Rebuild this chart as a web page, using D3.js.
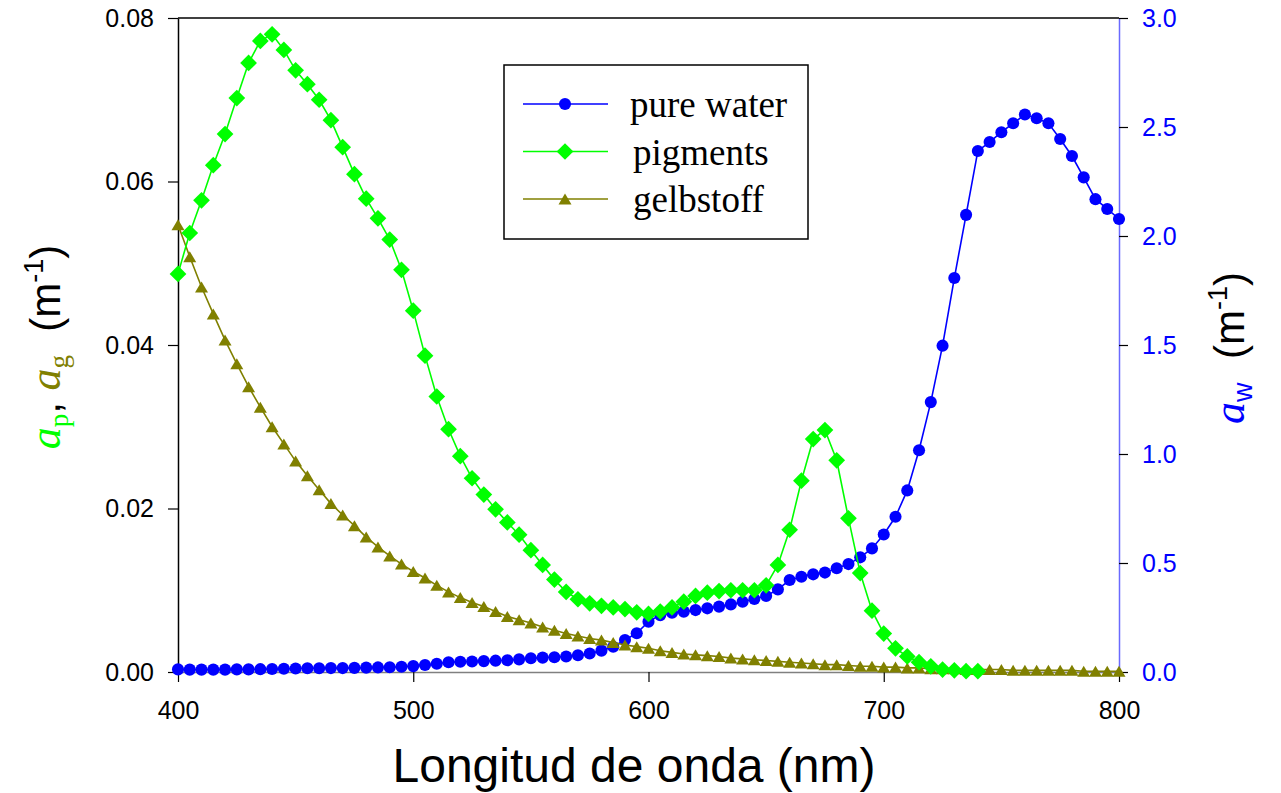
<!DOCTYPE html>
<html>
<head>
<meta charset="utf-8">
<script src="https://cdn.jsdelivr.net/npm/d3@7"></script>
<style>
  body { margin: 0; background: #fff; }
</style>
</head>
<body>
<div id="chart"></div>
<script>
// wavelengths in nm, sampled every 5 nm
const wavelengths = [
  400, 405, 410, 415, 420, 425, 430, 435, 440, 445,
  450, 455, 460, 465, 470, 475, 480, 485, 490, 495,
  500, 505, 510, 515, 520, 525, 530, 535, 540, 545,
  550, 555, 560, 565, 570, 575, 580, 585, 590, 595,
  600, 605, 610, 615, 620, 625, 630, 635, 640, 645,
  650, 655, 660, 665, 670, 675, 680, 685, 690, 695,
  700, 705, 710, 715, 720, 725, 730, 735, 740, 745,
  750, 755, 760, 765, 770, 775, 780, 785, 790, 795,
  800
];

// pure water absorption (right axis, m^-1)
const waterAbs = [
  0.012, 0.011, 0.011, 0.011, 0.011, 0.012, 0.012, 0.013, 0.014, 0.015,
  0.016, 0.017, 0.017, 0.018, 0.018, 0.019, 0.020, 0.021, 0.022, 0.024,
  0.027, 0.032, 0.038, 0.045, 0.047, 0.048, 0.050, 0.052, 0.054, 0.058,
  0.063, 0.066, 0.068, 0.071, 0.077, 0.085, 0.098, 0.116, 0.147, 0.178,
  0.231, 0.261, 0.272, 0.277, 0.284, 0.292, 0.300, 0.310, 0.322, 0.335,
  0.349, 0.379, 0.422, 0.437, 0.448, 0.456, 0.476, 0.495, 0.526, 0.567,
  0.631, 0.712, 0.833, 1.017, 1.238, 1.497, 1.807, 2.097, 2.390, 2.431,
  2.476, 2.517, 2.557, 2.540, 2.517, 2.445, 2.367, 2.269, 2.169, 2.124,
  2.078
];

// pigments (left axis), 400-740 nm only
const pigmentAbs = [
  0.0487, 0.0537, 0.0577, 0.0620, 0.0658, 0.0702, 0.0745, 0.0772, 0.0780, 0.0761,
  0.0736, 0.0719, 0.0700, 0.0675, 0.0642, 0.0609, 0.0579, 0.0555, 0.0529, 0.0492,
  0.0442, 0.0387, 0.0337, 0.0297, 0.0264, 0.0237, 0.0217, 0.0199, 0.0183, 0.0168,
  0.0149, 0.0131, 0.0113, 0.0098, 0.0089, 0.0084, 0.0081, 0.0079, 0.0077, 0.0073,
  0.0071, 0.0074, 0.0079, 0.0086, 0.0093, 0.0097, 0.0099, 0.0100, 0.0100, 0.0100,
  0.0106, 0.0131, 0.0174, 0.0234, 0.0285, 0.0296, 0.0259, 0.0188, 0.0121, 0.0075,
  0.0047, 0.0029, 0.0019, 0.0012, 0.0007, 0.0003, 0.0002, 0.0001, 0.0001
];

// gelbstoff (left axis)
const gelbstoffAbs = [
  0.0547, 0.0508, 0.0471, 0.0438, 0.0406, 0.0377, 0.0349, 0.0324, 0.0300, 0.0279,
  0.0258, 0.0240, 0.0223, 0.0206, 0.0192, 0.0179, 0.0165, 0.0153, 0.0142, 0.0132,
  0.0123, 0.0115, 0.0106, 0.0098, 0.0091, 0.0085, 0.0080, 0.0074, 0.0068, 0.0064,
  0.0060, 0.0055, 0.0051, 0.0047, 0.0044, 0.0041, 0.0039, 0.0036, 0.0033, 0.0031,
  0.0029, 0.0026, 0.0024, 0.0022, 0.0021, 0.0020, 0.0019, 0.0017, 0.0016, 0.0015,
  0.0014, 0.0013, 0.0012, 0.0011, 0.0010, 0.0009, 0.0009, 0.0008, 0.0007, 0.0007,
  0.0006, 0.0006, 0.0005, 0.0005, 0.0004, 0.0004, 0.0004, 0.0003, 0.0003, 0.0003,
  0.0003, 0.0002, 0.0002, 0.0002, 0.0002, 0.0002, 0.0002, 0.0001, 0.0001, 0.0001,
  0.0001
];

const seriesNames = ["pure water", "pigments", "gelbstoff"];
const xTicks = [400, 500, 600, 700, 800];
const leftTicks = [0, 0.02, 0.04, 0.06, 0.08];
const rightTicks = [0, 0.5, 1.0, 1.5, 2.0, 2.5, 3.0];

const sans = "'Liberation Sans', Arial, sans-serif";
const serif = "'Liberation Serif', 'Times New Roman', serif";

const W = 1281, H = 793;
const margin = { top: 18, right: 162, bottom: 121, left: 178 };
const width = W - margin.left - margin.right;
const height = H - margin.top - margin.bottom;

const svg = d3.select("#chart")
  .append("svg")
  .attr("width", W)
  .attr("height", H)
  .style("background", "#fff");

const g = svg.append("g")
  .attr("transform", `translate(${margin.left},${margin.top})`);

const x = d3.scaleLinear().domain([400, 800]).range([0, width]);
const yLeft = d3.scaleLinear().domain([0, 0.08]).range([height, 0]);
const yRight = d3.scaleLinear().domain([0, 3]).range([height, 0]);

// axes
function styleAxis(sel, domainColor, textColor) {
  sel.select(".domain").attr("stroke", domainColor).attr("stroke-width", 1.5);
  sel.selectAll(".tick line").attr("stroke", "#000").attr("stroke-width", 1.2);
  sel.selectAll(".tick text")
    .attr("fill", textColor)
    .style("font-family", sans)
    .style("font-size", "25px");
}

g.append("g")
  .attr("transform", `translate(0,${height})`)
  .call(d3.axisBottom(x).tickValues(xTicks).tickSize(10).tickSizeOuter(0).tickPadding(19))
  .call(s => styleAxis(s, "#808080", "#000"));

g.append("g")
  .call(d3.axisLeft(yLeft).tickValues(leftTicks).tickFormat(d3.format(".2f"))
    .tickSize(10).tickSizeOuter(0).tickPadding(14))
  .call(s => styleAxis(s, "#000", "#000"));

g.append("g")
  .attr("transform", `translate(${width},0)`)
  .call(d3.axisRight(yRight).tickValues(rightTicks).tickFormat(d3.format(".1f"))
    .tickSize(9).tickSizeOuter(0).tickPadding(14))
  .call(s => styleAxis(s, "#6a6aff", "#0000ff"));

// top frame line
g.append("line")
  .attr("x1", 0).attr("x2", width)
  .attr("y1", 0).attr("y2", 0)
  .attr("stroke", "#000").attr("stroke-width", 1.5);

// marker shapes
const triangleType = {
  draw(ctx, size) {
    const w = 6.5, h = 5.5;
    ctx.moveTo(0, -h);
    ctx.lineTo(w, h);
    ctx.lineTo(-w, h);
    ctx.closePath();
  }
};
const markers = {
  circle: { path: d3.symbol(d3.symbolCircle, 115)(), rot: 0 },
  diamond: { path: d3.symbol(d3.symbolSquare, 140)(), rot: 45 },
  triangle: { path: d3.symbol(triangleType, 1)(), rot: 0 }
};

const series = [
  { name: seriesNames[0], xs: wavelengths, ys: waterAbs, y: yRight, color: "#0000ff", marker: "circle" },
  { name: seriesNames[2], xs: wavelengths, ys: gelbstoffAbs, y: yLeft, color: "#808000", marker: "triangle" },
  { name: seriesNames[1], xs: wavelengths.slice(0, pigmentAbs.length), ys: pigmentAbs, y: yLeft, color: "#00ff00", marker: "diamond" }
];

series.forEach(s => {
  const pts = s.xs.map((w, i) => [w, s.ys[i]]);
  const line = d3.line().x(d => x(d[0])).y(d => s.y(d[1]));
  g.append("path")
    .datum(pts)
    .attr("fill", "none")
    .attr("stroke", s.color)
    .attr("stroke-width", 1.6)
    .attr("d", line);
  const m = markers[s.marker];
  g.selectAll(null)
    .data(pts)
    .enter().append("path")
    .attr("d", m.path)
    .attr("fill", s.color)
    .attr("transform", d => `translate(${x(d[0])},${s.y(d[1])}) rotate(${m.rot})`);
});

// legend
const legend = svg.append("g").attr("transform", "translate(504,65)");
legend.append("rect")
  .attr("width", 304).attr("height", 174)
  .attr("fill", "#fff").attr("stroke", "#000").attr("stroke-width", 1.5);

const legendRows = [
  { name: seriesNames[0], color: "#0000ff", marker: "circle" },
  { name: seriesNames[1], color: "#00ff00", marker: "diamond" },
  { name: seriesNames[2], color: "#808000", marker: "triangle" }
];
legendRows.forEach((r, i) => {
  const yy = 39 + i * 47.5;
  legend.append("line")
    .attr("x1", 19).attr("x2", 104)
    .attr("y1", yy).attr("y2", yy)
    .attr("stroke", r.color).attr("stroke-width", 1.6);
  const m = markers[r.marker];
  legend.append("path")
    .attr("d", m.path)
    .attr("fill", r.color)
    .attr("transform", `translate(61,${yy}) rotate(${m.rot})`);
  legend.append("text")
    .attr("x", 126 + (i === 0 ? 0 : 3)).attr("y", yy + 13)
    .style("font-family", serif)
    .style("font-size", "37px")
    .attr("fill", "#000")
    .text(r.name);
});

// axis titles
svg.append("text")
  .attr("x", 634).attr("y", 782)
  .attr("text-anchor", "middle")
  .style("font-family", sans)
  .style("font-size", "48px")
  .attr("fill", "#000")
  .text("Longitud de onda (nm)");

function richTitle(tx, ty, parts) {
  const t = svg.append("text")
    .attr("transform", `translate(${tx},${ty}) rotate(-90)`)
    .attr("text-anchor", "middle");
  parts.forEach(p => {
    t.append("tspan")
      .attr("dy", p.dy || 0)
      .attr("fill", p.color || "#000")
      .style("font-family", p.font || sans)
      .style("font-style", p.italic ? "italic" : "normal")
      .style("font-size", (p.size || 40) + "px")
      .style("white-space", "pre")
      .text(p.text);
  });
}

richTitle(60, 347, [
  { text: "a", font: serif, italic: true, size: 44, color: "#00ff00" },
  { text: "p", font: serif, size: 27, color: "#00ff00", dy: 8 },
  { text: ", ", size: 42, dy: -8 },
  { text: "a", font: serif, italic: true, size: 44, color: "#808000" },
  { text: "g", font: serif, size: 27, color: "#808000", dy: 8 },
  { text: "  (m", size: 42, dy: -8 },
  { text: "-1", size: 27, dy: -17 },
  { text: ")", size: 42, dy: 17 }
]);

richTitle(1244, 348, [
  { text: "a", font: serif, italic: true, size: 44, color: "#0000ff" },
  { text: "w", size: 27, color: "#0000ff", dy: 8 },
  { text: "  (m", size: 42, dy: -8 },
  { text: "-1", size: 27, dy: -17 },
  { text: ")", size: 42, dy: 17 }
]);
</script>
</body>
</html>
